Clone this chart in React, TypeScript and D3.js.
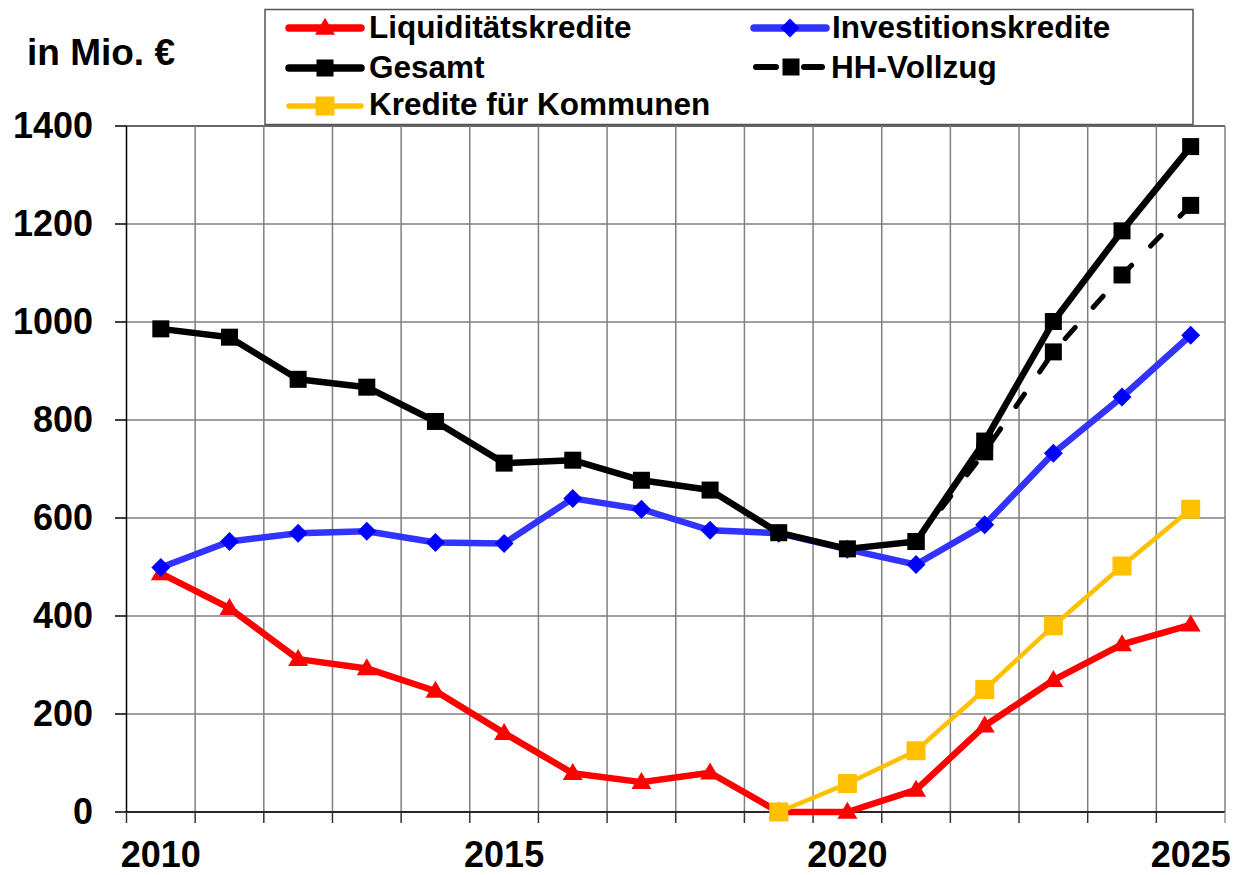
import React from 'react';
import * as d3 from 'd3';

const years = [2010, 2011, 2012, 2013, 2014, 2015, 2016, 2017, 2018, 2019, 2020, 2021, 2022, 2023, 2024, 2025];
const liquiditaetskredite = [487, 416, 312, 293, 247, 161, 79, 61, 80, 0, 0, 45, 176, 269, 342, 382];
const investitionskredite = [499, 552, 569, 573, 550, 548, 640, 618, 575, 569, 536, 505, 586, 732, 847, 973];
const gesamt = [986, 969, 883, 867, 797, 712, 718, 677, 657, 570, 537, 552, 757, 1001, 1186, 1358];
const hhYears = [2021, 2022, 2023, 2024, 2025];
const hhVollzug = [552, 735, 939, 1096, 1238];
const kommunenYears = [2019, 2020, 2021, 2022, 2023, 2024, 2025];
const kommunen = [0, 58, 125, 250, 380, 502, 618];
const yTicks = [0, 200, 400, 600, 800, 1000, 1200, 1400];
const xTickLabels = [2010, 2015, 2020, 2025];

const FONT = "'Liberation Sans', Arial, Helvetica, sans-serif";
const RED = '#ff0000';
const BLUE_LINE = '#3333ff';
const BLUE = '#0000ff';
const BLACK = '#000000';
const YELLOW = '#ffc000';

type Pt = { x: number; y: number };

function Marker({ kind, x, y, color }: { kind: string; x: number; y: number; color: string }) {
  if (kind === 'square') {
    const s = 17;
    return <rect x={x - s / 2} y={y - s / 2} width={s} height={s} fill={color} />;
  }
  if (kind === 'bigsquare') {
    const s = 19;
    return <rect x={x - s / 2} y={y - s / 2} width={s} height={s} fill={color} />;
  }
  if (kind === 'diamond') {
    const r = 9.5;
    return <path d={`M${x},${y - r}L${x + r},${y}L${x},${y + r}L${x - r},${y}Z`} fill={color} />;
  }
  const w = 20, h = 17;
  return <path d={`M${x},${y - h * 0.6}L${x + w / 2},${y + h * 0.4}L${x - w / 2},${y + h * 0.4}Z`} fill={color} />;
}

export default function App() {
  const width = 1242, height = 875;
  const left = 126.5, right = 1225, top = 126, bottom = 812;

  const x = d3.scaleBand<number>().domain(years).range([left, right]).padding(0);
  const y = d3.scaleLinear().domain([0, 1400]).range([bottom, top]);
  const cx = (yr: number) => (x(yr) as number) + x.bandwidth() / 2;

  const line = d3.line<Pt>().x(d => d.x).y(d => d.y);
  const pts = (ys: number[], vs: number[]): Pt[] => ys.map((yr, i) => ({ x: cx(yr), y: y(vs[i]) }));

  const series = [
    { name: 'Liquiditätskredite', pts: pts(years, liquiditaetskredite), lineColor: RED, markColor: RED, kind: 'triangle', w: 6.5, dash: '' },
    { name: 'Investitionskredite', pts: pts(years, investitionskredite), lineColor: BLUE_LINE, markColor: BLUE, kind: 'diamond', w: 6.5, dash: '' },
    { name: 'Gesamt', pts: pts(years, gesamt), lineColor: BLACK, markColor: BLACK, kind: 'square', w: 6.5, dash: '' },
    { name: 'HH-Vollzug', pts: pts(hhYears, hhVollzug), lineColor: BLACK, markColor: BLACK, kind: 'square', w: 5, dash: '15 27' },
    { name: 'Kredite für Kommunen', pts: pts(kommunenYears, kommunen), lineColor: YELLOW, markColor: YELLOW, kind: 'bigsquare', w: 4.5, dash: '' },
  ];

  const boundaries = [...years.map(yr => x(yr) as number), right];

  const legendItems = [
    { s: series[0], lx: 289, ly: 28, tx: 369, ty: 38 },
    { s: series[1], lx: 754, ly: 28, tx: 832, ty: 38 },
    { s: series[2], lx: 289, ly: 68, tx: 369, ty: 78 },
    { s: series[3], lx: 756, ly: 67, tx: 831, ty: 78 },
    { s: series[4], lx: 289, ly: 106, tx: 369, ty: 115 },
  ];

  return (
    <svg width={width} height={height} style={{ position: 'absolute', left: 0, top: 0, background: '#fff' }}
      fontFamily={FONT} fontWeight="bold">
      <rect x={0} y={0} width={width} height={height} fill="#fff" />
      {yTicks.map(t => (
        <line key={'h' + t} x1={left} x2={right} y1={y(t)} y2={y(t)} stroke={t === 1400 ? '#333' : '#7f7f7f'} strokeWidth={1.5} />
      ))}
      {boundaries.map((b, i) => (
        <line key={'v' + i} x1={b} x2={b} y1={top} y2={bottom} stroke={i === 0 ? '#000' : '#7f7f7f'} strokeWidth={1.5} />
      ))}
      <line x1={left} x2={right} y1={bottom} y2={bottom} stroke="#000" strokeWidth={1.5} />
      {yTicks.map(t => (
        <line key={'yt' + t} x1={115} x2={left} y1={y(t)} y2={y(t)} stroke="#000" strokeWidth={1.5} />
      ))}
      {boundaries.map((b, i) => (
        <line key={'xt' + i} x1={b} x2={b} y1={bottom} y2={bottom + 11} stroke={i === boundaries.length - 1 ? '#999' : '#333'} strokeWidth={1.5} />
      ))}
      {yTicks.map(t => (
        <text key={'yl' + t} x={93} y={y(t) + 12} textAnchor="end" fontSize={36} fill="#000">{t}</text>
      ))}
      {xTickLabels.map(yr => (
        <text key={'xl' + yr} x={cx(yr)} y={867} textAnchor="middle" fontSize={36} fill="#000">{yr}</text>
      ))}
      <text x={27} y={65} fontSize={37} fill="#000">in Mio. €</text>

      {series.map(s => (
        <g key={s.name}>
          <path d={line(s.pts) || ''} fill="none" stroke={s.lineColor} strokeWidth={s.w}
            strokeDasharray={s.dash || undefined} strokeLinecap={s.dash ? 'round' : 'butt'} strokeLinejoin="round" />
          {s.pts.map((p, i) => <Marker key={i} kind={s.kind} x={p.x} y={p.y} color={s.markColor} />)}
        </g>
      ))}

      <rect x={265} y={9.5} width={928} height={115} fill="#fff" stroke="#555" strokeWidth={1.5} />
      {legendItems.map(({ s, lx, ly, tx, ty }) => (
        <g key={'lg' + s.name}>
          {s.dash ? (
            <line x1={lx} x2={lx + 66} y1={ly} y2={ly} stroke={s.lineColor} strokeWidth={s.w + 1}
              strokeDasharray="20 28" strokeLinecap="round" />
          ) : (
            <line x1={lx} x2={lx + 72} y1={ly} y2={ly} stroke={s.lineColor} strokeWidth={s.w + 1} strokeLinecap="round" />
          )}
          <Marker kind={s.kind} x={s.dash ? lx + 35 : lx + 36} y={ly} color={s.markColor} />
          <text x={tx} y={ty} fontSize={31.5} fill="#000">{s.name}</text>
        </g>
      ))}
    </svg>
  );
}
